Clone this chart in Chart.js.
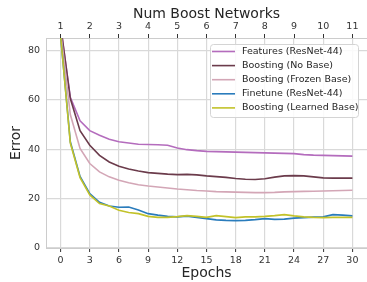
<!DOCTYPE html>
<html>
<head>
<meta charset="utf-8">
<script src="https://cdn.jsdelivr.net/npm/chart.js@4"></script>
<style>
    html, body { margin: 0; padding: 0; background: #ffffff; }
    #wrap { width: 367px; height: 282px; }
</style>
</head>
<body>
<div id="wrap"><canvas id="boostChart" width="367" height="282"></canvas></div>
<script>
// ==========================================
// DATA
// ==========================================

const epochs = [];
for (let e = 0; e <= 30; e++) epochs.push(e);

const epochTicks = [0, 3, 6, 9, 12, 15, 18, 21, 24, 27, 30];
const boostTickLabels = ["1", "2", "3", "4", "5", "6", "7", "8", "9", "10", "11"];
const errorTicks = [0, 20, 40, 60, 80];

const seriesLabels = [
    "Features (ResNet-44)",
    "Boosting (No Base)",
    "Boosting (Frozen Base)",
    "Finetune (ResNet-44)",
    "Boosting (Learned Base)"
];

const featuresValues = [90, 61, 51.5, 47.5, 45.6, 44, 43, 42.5, 42, 41.9, 41.8, 41.6, 40.5, 39.8, 39.4, 39.1, 39, 38.9, 38.8, 38.7, 38.6, 38.5, 38.4, 38.3, 38.2, 37.8, 37.6, 37.5, 37.4, 37.3, 37.2];
const noBaseValues = [90, 60.5, 47.5, 41.6, 37.5, 34.8, 33.1, 32, 31.2, 30.5, 30.2, 29.9, 29.7, 29.8, 29.6, 29.2, 28.9, 28.6, 28.1, 27.8, 27.7, 28, 28.7, 29.2, 29.3, 29.2, 28.8, 28.4, 28.3, 28.3, 28.3];
const frozenBaseValues = [88, 54, 40.3, 34.2, 30.8, 28.8, 27.4, 26.4, 25.6, 25.1, 24.7, 24.3, 23.9, 23.6, 23.3, 23.1, 22.8, 22.7, 22.6, 22.5, 22.4, 22.4, 22.5, 22.7, 22.8, 22.9, 23, 23.1, 23.2, 23.3, 23.4];
const finetuneValues = [86, 43, 29, 22, 18.5, 17, 16.5, 16.6, 15.4, 13.9, 13.3, 12.8, 12.6, 12.9, 12.4, 11.9, 11.4, 11.2, 11.1, 11.2, 11.5, 11.9, 11.6, 11.7, 12.1, 12.3, 12.5, 12.6, 13.5, 13.3, 13];
const learnedBaseValues = [86, 42.5, 28.5, 21.5, 18, 17, 15.3, 14.4, 13.9, 12.8, 12.4, 12.4, 12.7, 13.1, 12.8, 12.4, 13.1, 12.7, 12.3, 12.6, 12.6, 12.8, 13.1, 13.5, 13, 12.6, 12.4, 12.3, 12.4, 12.4, 12.4];

const seriesColors = ["#b46cbd", "#6b3b4b", "#d3a6b6", "#2a7cbc", "#c2c22a"];

// ==========================================
// LEGEND (drawn inside the plot, upper right)
// ==========================================

const boxLegend = {
    id: "boxLegend",
    afterDatasetsDraw(chart) {
        const ctx = chart.ctx;
        const x = 210, y = 44, w = 148, h = 73;
        ctx.save();
        ctx.fillStyle = "rgba(255,255,255,0.85)";
        ctx.strokeStyle = "#d4d4d4";
        ctx.lineWidth = 1;
        ctx.beginPath();
        ctx.roundRect(x + 0.5, y + 0.5, w, h, 3);
        ctx.fill();
        ctx.stroke();
        ctx.font = "9.5px 'DejaVu Sans'";
        ctx.textBaseline = "middle";
        ctx.fillStyle = "#262626";
        chart.data.datasets.forEach(function (ds, i) {
            const rowY = y + 7.5 + i * 14.1;
            ctx.strokeStyle = ds.borderColor;
            ctx.lineWidth = 1.6;
            ctx.beginPath();
            ctx.moveTo(x + 2, rowY);
            ctx.lineTo(x + 25, rowY);
            ctx.stroke();
            ctx.fillText(ds.label, x + 32, rowY);
        });
        ctx.restore();
    }
};

// ==========================================
// CHART
// ==========================================

const allValues = [featuresValues, noBaseValues, frozenBaseValues, finetuneValues, learnedBaseValues];

const datasets = allValues.map(function (vals, i) {
    return {
        label: seriesLabels[i],
        data: vals,
        borderColor: seriesColors[i],
        backgroundColor: seriesColors[i],
        borderWidth: 1.6,
        pointRadius: 0,
        tension: 0,
        fill: false,
        order: 5 - i
    };
});

const tickFont = { family: "'DejaVu Sans'", size: 9.5 };
const titleFont = { family: "'DejaVu Sans'", size: 14 };
const gridColor = "#d9d9d9";

new Chart(document.getElementById("boostChart"), {
    type: "line",
    data: { labels: epochs, datasets: datasets },
    plugins: [boxLegend],
    options: {
        responsive: false,
        animation: false,
        layout: { padding: 0 },
        plugins: {
            legend: { display: false },
            tooltip: { enabled: false }
        },
        scales: {
            x: {
                type: "linear",
                position: "bottom",
                min: -1.5,
                max: 31.5,
                afterBuildTicks: function (scale) {
                    scale.ticks = epochTicks.map(v => ({ value: v }));
                },
                afterFit: function (scale) { scale.height = 34; },
                ticks: { font: tickFont, color: "#333333", padding: 3, maxRotation: 0 },
                grid: { color: gridColor, lineWidth: 1.2, tickLength: 4, tickColor: "#333333", tickWidth: 1 },
                border: { color: "#cccccc" },
                title: { display: true, text: "Epochs", font: titleFont, color: "#262626", padding: { top: 0, bottom: 0 } }
            },
            xTop: {
                type: "linear",
                position: "top",
                min: -1.5,
                max: 31.5,
                afterBuildTicks: function (scale) {
                    scale.ticks = epochTicks.map(v => ({ value: v }));
                },
                afterFit: function (scale) { scale.height = 38; },
                ticks: {
                    font: tickFont,
                    color: "#333333",
                    padding: 2,
                    maxRotation: 0,
                    callback: function (value) {
                        return boostTickLabels[epochTicks.indexOf(value)];
                    }
                },
                grid: { drawOnChartArea: false, tickLength: 4, tickColor: "#333333", tickWidth: 1 },
                border: { color: "#cccccc" },
                title: { display: true, text: "Num Boost Networks", font: titleFont, color: "#262626", padding: { top: 6, bottom: 0 } }
            },
            y: {
                min: 0,
                max: 85,
                afterBuildTicks: function (scale) {
                    scale.ticks = errorTicks.map(v => ({ value: v }));
                },
                afterFit: function (scale) { scale.width = 46; },
                ticks: { font: tickFont, color: "#333333", padding: 6 },
                grid: { color: gridColor, lineWidth: 1.2, drawTicks: false },
                border: { color: "#cccccc" },
                title: { display: true, text: "Error", font: titleFont, color: "#262626", padding: { top: 8, bottom: 0 } }
            }
        }
    }
});
</script>
</body>
</html>
